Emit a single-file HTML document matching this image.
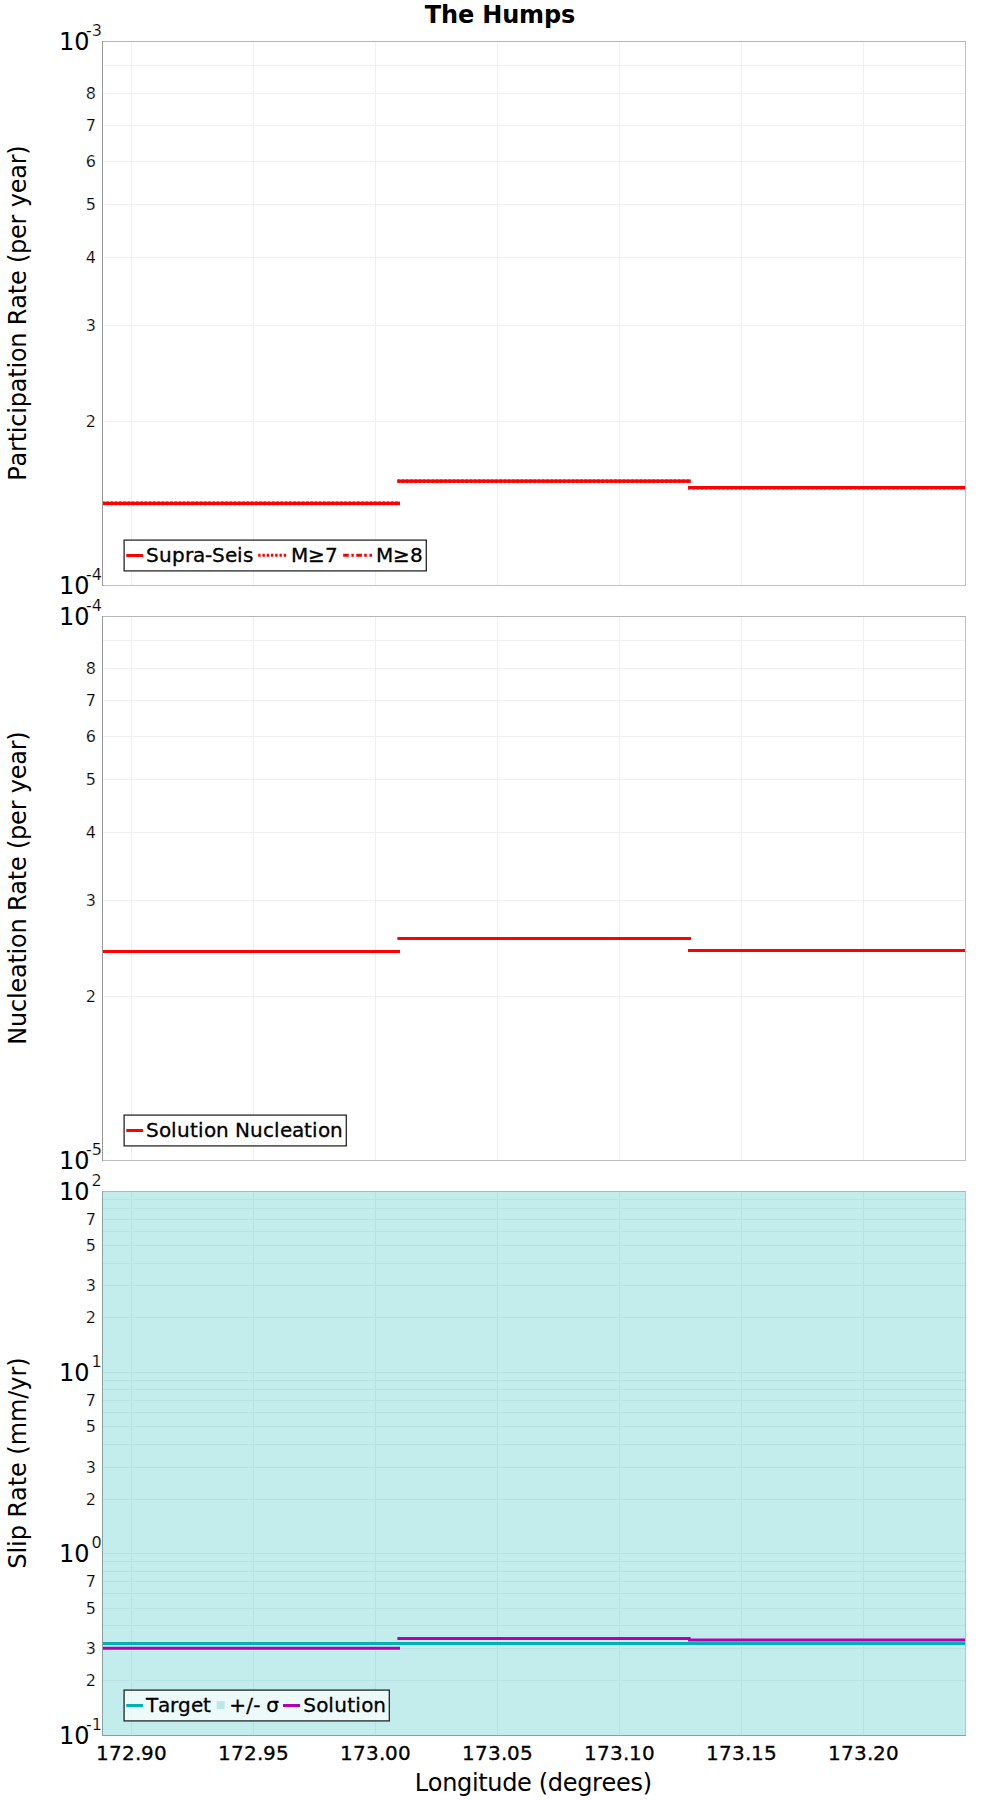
<!DOCTYPE html>
<html lang="en"><head><meta charset="utf-8"><title>The Humps</title>
<style>html,body{margin:0;padding:0;background:#fff}body{width:1000px;height:1800px;overflow:hidden}svg{display:block}text{font-family:"DejaVu Sans", "Liberation Sans", sans-serif;fill:#000;font-kerning:none}.t24{font-size:24px}.t20{font-size:20px;stroke:#000;stroke-width:.3px}.t16{font-size:16px;stroke:#fff;stroke-width:.2px}.t17{font-size:16px;stroke:#fff;stroke-width:.2px}.ttl{stroke:none}</style></head><body>
<svg width="1000" height="1800" viewBox="0 0 1000 1800">
<rect width="1000" height="1800" fill="#fff"/>
<text x="500" y="23" text-anchor="middle" font-weight="bold" class="t24 ttl" textLength="150.4" lengthAdjust="spacing">The Humps</text>
<g>
<path d="M131.5 41.5V585.5M253.5 41.5V585.5M375.5 41.5V585.5M497.5 41.5V585.5M619.5 41.5V585.5M741.5 41.5V585.5M863.5 41.5V585.5M102.5 421.5H965.5M102.5 325.5H965.5M102.5 257.5H965.5M102.5 204.5H965.5M102.5 161.5H965.5M102.5 125.5H965.5M102.5 93.5H965.5M102.5 65.5H965.5" stroke="#f0f0f0" stroke-width="1" fill="none" shape-rendering="crispEdges"/>
</g>
<path d="M102 503.4H400M397.4 481.2H690.8M688 487.7H965" stroke="#f00" stroke-width="3.2" fill="none"/>
<path d="M102 503.4H400M397.4 481.2H690.8M688 487.7H965" stroke="#f00" stroke-width="3.6" stroke-dasharray="2.6 1.65" fill="none"/>
<rect x="102.5" y="41.5" width="863" height="544" fill="none" stroke="#c0c0c0" stroke-width="1" shape-rendering="crispEdges"/>
<path d="M102 41.5H966" stroke="#b6b6b6" stroke-width="1" fill="none" shape-rendering="crispEdges"/>
<path d="M102.5 41V586" stroke="#999" stroke-width="1" fill="none" shape-rendering="crispEdges"/>
<text class="t24" x="59" y="50">10<tspan class="t17" dx="-3.5" dy="-14">-3</tspan></text>
<text class="t24" x="59" y="594">10<tspan class="t17" dx="-3.5" dy="-14">-4</tspan></text>
<text class="t16" x="96" y="99" text-anchor="end">8</text>
<text class="t16" x="96" y="131" text-anchor="end">7</text>
<text class="t16" x="96" y="167" text-anchor="end">6</text>
<text class="t16" x="96" y="210" text-anchor="end">5</text>
<text class="t16" x="96" y="263" text-anchor="end">4</text>
<text class="t16" x="96" y="331" text-anchor="end">3</text>
<text class="t16" x="96" y="427" text-anchor="end">2</text>
<text class="t24" text-anchor="middle" textLength="335.5" lengthAdjust="spacing" transform="translate(26 313) rotate(-90)">Participation Rate (per year)</text>
<rect x="124.1" y="540.1" width="302.2" height="30.8" fill="#fff" stroke="#000" stroke-opacity=".85" stroke-width="1.3"/>
<path d="M126.3 555.5H143" stroke="#f00" stroke-width="3" fill="none"/>
<text class="t20" x="146.1 159.1 172.1 185.1 193.1 205.1 212.1 225.1 237.1 243.1" y="561.8">Supra-Seis</text>
<path d="M258.2 555.3H287" stroke="#f00" stroke-width="3" stroke-dasharray="2.4 1.85" fill="none"/>
<text class="t20" x="291 308 325" y="561.8">M≥7</text>
<path d="M343.2 555.3h5.6m2.6 0h2.4m2.4 0h5.7m2.3 0h2.6m2.6 0h2.6" stroke="#f00" stroke-width="3" fill="none"/>
<text class="t20" x="376 393 410" y="561.8">M≥8</text>
<g>
<path d="M131.5 616.5V1160.5M253.5 616.5V1160.5M375.5 616.5V1160.5M497.5 616.5V1160.5M619.5 616.5V1160.5M741.5 616.5V1160.5M863.5 616.5V1160.5M102.5 996.5H965.5M102.5 900.5H965.5M102.5 832.5H965.5M102.5 779.5H965.5M102.5 736.5H965.5M102.5 700.5H965.5M102.5 668.5H965.5M102.5 640.5H965.5" stroke="#f0f0f0" stroke-width="1" fill="none" shape-rendering="crispEdges"/>
</g>
<path d="M102 951.4H400M397.4 938.5H691M688 950.4H965" stroke="#f00" stroke-width="3" fill="none"/>
<rect x="102.5" y="616.5" width="863" height="544" fill="none" stroke="#c0c0c0" stroke-width="1" shape-rendering="crispEdges"/>
<path d="M102 616.5H966" stroke="#b6b6b6" stroke-width="1" fill="none" shape-rendering="crispEdges"/>
<path d="M102.5 616V1161" stroke="#999" stroke-width="1" fill="none" shape-rendering="crispEdges"/>
<text class="t24" x="59" y="625">10<tspan class="t17" dx="-3.5" dy="-14">-4</tspan></text>
<text class="t24" x="59" y="1169">10<tspan class="t17" dx="-3.5" dy="-14">-5</tspan></text>
<text class="t16" x="96" y="674" text-anchor="end">8</text>
<text class="t16" x="96" y="706" text-anchor="end">7</text>
<text class="t16" x="96" y="742" text-anchor="end">6</text>
<text class="t16" x="96" y="785" text-anchor="end">5</text>
<text class="t16" x="96" y="838" text-anchor="end">4</text>
<text class="t16" x="96" y="906" text-anchor="end">3</text>
<text class="t16" x="96" y="1002" text-anchor="end">2</text>
<text class="t24" text-anchor="middle" textLength="313.5" lengthAdjust="spacing" transform="translate(26 888) rotate(-90)">Nucleation Rate (per year)</text>
<rect x="124.1" y="1115.1" width="222.2" height="30.8" fill="#fff" stroke="#000" stroke-opacity=".85" stroke-width="1.3"/>
<path d="M126.3 1130.5H143" stroke="#f00" stroke-width="3" fill="none"/>
<text class="t20" x="146.1 159.1 171.1 177.1 190.1 198.1 204.1 216.1 229.1 235.1 250.1 263.1 274.1 280.1 292.1 304.1 312.1 318.1 330.1" y="1136.8">Solution Nucleation</text>
<g>
<rect x="102" y="1191" width="864" height="545" fill="#c3eded"/>
<path d="M131.5 1191.5V1735.5M253.5 1191.5V1735.5M375.5 1191.5V1735.5M497.5 1191.5V1735.5M619.5 1191.5V1735.5M741.5 1191.5V1735.5M863.5 1191.5V1735.5M102.5 1317.5H965.5M102.5 1285.5H965.5M102.5 1263.5H965.5M102.5 1245.5H965.5M102.5 1231.5H965.5M102.5 1219.5H965.5M102.5 1208.5H965.5M102.5 1199.5H965.5M102.5 1553.5H965.5M102.5 1499.5H965.5M102.5 1467.5H965.5M102.5 1444.5H965.5M102.5 1426.5H965.5M102.5 1412.5H965.5M102.5 1400.5H965.5M102.5 1389.5H965.5M102.5 1380.5H965.5M102.5 1680.5H965.5M102.5 1648.5H965.5M102.5 1625.5H965.5M102.5 1608.5H965.5M102.5 1593.5H965.5M102.5 1581.5H965.5M102.5 1571.5H965.5M102.5 1561.5H965.5M102.5 1372.5H965.5M102.5 1553.5H965.5" stroke="#b8e1e1" stroke-width="1" fill="none" shape-rendering="crispEdges"/>
</g>
<path d="M102 1643.5H965" stroke="#00b2b2" stroke-width="3" fill="none"/>
<path d="M102 1648.3H400M397.4 1638.5H690.6M688 1640H965" stroke="#b200b2" stroke-width="3" fill="none"/>
<rect x="102.5" y="1191.5" width="863" height="544" fill="none" stroke="#c0c0c0" stroke-width="1" shape-rendering="crispEdges"/>
<path d="M102 1191.5H966" stroke="#b6b6b6" stroke-width="1" fill="none" shape-rendering="crispEdges"/>
<path d="M102.5 1191V1736" stroke="#8aa0a0" stroke-width="1" fill="none" shape-rendering="crispEdges"/>
<path d="M102 1735.5H966" stroke="#999" stroke-width="1" fill="none" shape-rendering="crispEdges"/>
<text class="t24" x="59" y="1200">10<tspan class="t17" dx="2" dy="-14">2</tspan></text>
<text class="t24" x="59" y="1381">10<tspan class="t17" dx="2" dy="-14">1</tspan></text>
<text class="t24" x="59" y="1562">10<tspan class="t17" dx="2" dy="-14">0</tspan></text>
<text class="t24" x="59" y="1744">10<tspan class="t17" dx="-3.5" dy="-14">-1</tspan></text>
<text class="t16" x="96" y="1225" text-anchor="end">7</text>
<text class="t16" x="96" y="1251" text-anchor="end">5</text>
<text class="t16" x="96" y="1291" text-anchor="end">3</text>
<text class="t16" x="96" y="1323" text-anchor="end">2</text>
<text class="t16" x="96" y="1406" text-anchor="end">7</text>
<text class="t16" x="96" y="1432" text-anchor="end">5</text>
<text class="t16" x="96" y="1473" text-anchor="end">3</text>
<text class="t16" x="96" y="1505" text-anchor="end">2</text>
<text class="t16" x="96" y="1587" text-anchor="end">7</text>
<text class="t16" x="96" y="1614" text-anchor="end">5</text>
<text class="t16" x="96" y="1654" text-anchor="end">3</text>
<text class="t16" x="96" y="1686" text-anchor="end">2</text>
<text class="t24" text-anchor="middle" textLength="211.3" lengthAdjust="spacing" transform="translate(26 1463) rotate(-90)">Slip Rate (mm/yr)</text>
<rect x="124.1" y="1690.1" width="265.2" height="30.8" fill="rgba(255,255,255,0.7)" stroke="#000" stroke-opacity=".85" stroke-width="1.3"/>
<path d="M126.3 1705.5H143" stroke="#00b2b2" stroke-width="3" fill="none"/>
<text class="t20" x="146 158 170 178 191 203" y="1711.8">Target</text>
<rect x="216.7" y="1701.2" width="8" height="8" fill="#b9e8e8"/>
<text class="t20" x="229.2 246.2 253.2 260.2 266.2" y="1711.8">+/- σ</text>
<path d="M283 1705.5H300" stroke="#b200b2" stroke-width="3" fill="none"/>
<text class="t20" x="303.2 316.2 328.2 334.2 347.2 355.2 361.2 373.2" y="1711.8">Solution</text>
<text class="t20" x="96 109 122 135 141 154" y="1760">172.90</text>
<text class="t20" x="218 231 244 257 263 276" y="1760">172.95</text>
<text class="t20" x="340 353 366 379 385 398" y="1760">173.00</text>
<text class="t20" x="462 475 488 501 507 520" y="1760">173.05</text>
<text class="t20" x="584 597 610 623 629 642" y="1760">173.10</text>
<text class="t20" x="706 719 732 745 751 764" y="1760">173.15</text>
<text class="t20" x="828 841 854 867 873 886" y="1760">173.20</text>
<text class="t24" x="533.4" y="1791" text-anchor="middle" textLength="237.2" lengthAdjust="spacing">Longitude (degrees)</text>
</svg></body></html>
